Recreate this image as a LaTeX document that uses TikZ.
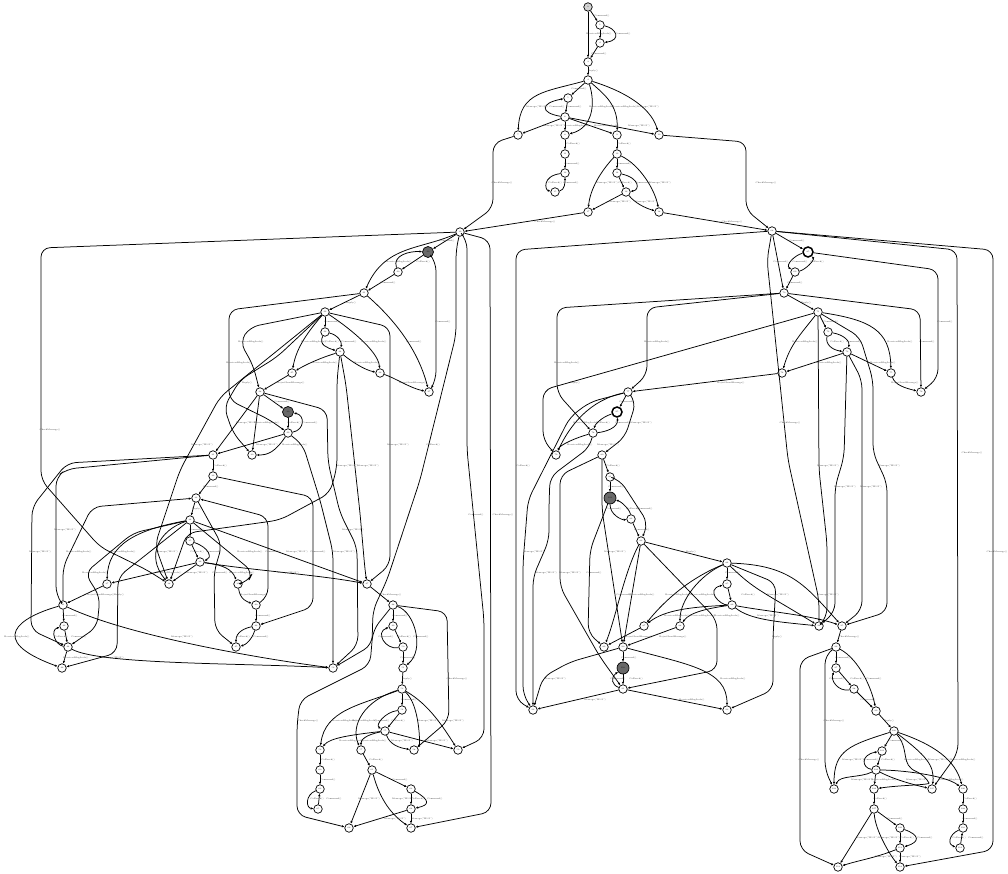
\documentclass[tikz,border=0pt]{standalone}
\usepackage{xcolor}
\usetikzlibrary{arrows.meta}
\definecolor{dimst}{RGB}{105,105,105}
\definecolor{startst}{RGB}{211,211,211}
\newcommand{\smallfont}{\fontsize{2.15}{2.15}\selectfont}
\tikzset{
  st/.style={circle,draw=black,fill=white,line width=.7pt,minimum size=8.5pt,inner sep=.4pt,font=\fontsize{2}{2}\selectfont},
  startst/.style={st,fill=startst},
  dimst/.style={st,fill=dimst,minimum size=11pt},
  boldst/.style={st,line width=1.5pt,minimum size=10pt},
  ed/.style={draw=black,line width=.75pt,rounded corners=9pt,-{Latex[length=2.6pt,width=2.4pt]}},
  lbl/.style={font=\smallfont,inner sep=0pt,text=black!80}
}
\begin{document}
\begin{tikzpicture}[x=1pt,y=-1pt]
  \useasboundingbox (0,0) rectangle (1008,874);
  % states
  \foreach \nm/\x/\y [count=\i from 1] in {t1/600/25,t2/600/43,t3/588/62,t4/588/80,t5/568/98,t6/565/117,t7/518/135,t8/565/135,t9/617/135,t10/659/135,t11/565/154,t12/617/154,t13/565/173,t14/617/173,t15/555/192,t16/626/192,t17/588/212,t18/659/212,
    L0/460/232,l2/398/272,l3/364/293,l4/325/312,l5/325/332,l6/340/352,l7/292/373,l8/380/373,l9/429/392,l10/260/392,l12/288/433,l13/252/455,l14/213/455,l15/213/476,l16/196/498,l17/190/520,l18/190/541,l19/200/562,l20/107/584,l21/169/584,l22/238/584,l23/256/605,l24/63/605,l25/64/626,l26/256/626,l27/68/647,l28/236/647,l29/62/668,
    b0/367/584,b1/393/605,b2/393/626,b3/403/647,b4/403/668,b5/333/668,b6/402/689,b7/402/710,b8/385/731,b9/320/750,b10/361/750,b11/414/750,b12/458/750,b13/320/770,b14/372/770,b15/320/789,b16/411/789,b17/411/809,b18/318/809,b19/349/828,b20/411/828,
    R0/772/231,r2/795/272,r3/784/293,r4/818/312,r5/828/332,r6/847/352,r7/782/373,r8/891/373,r9/921/392,r10/628/392,r12/593/433,r13/556/455,r14/602/455,r15/610/477,r17/631/519,r18/641/541,r19/727/563,r20/727/584,r21/732/605,r22/644/626,r23/680/626,r24/604/647,r25/623/647,r27/623/689,r28/533/710,r29/727/710,
    q0/819/626,q1/842/626,q2/836/647,q3/836/668,q4/854/689,q5/876/711,q6/894/731,q7/882/751,q8/876/770,q9/834/789,q10/874/789,q11/932/789,q12/963/789,q13/874/809,q14/963/809,q15/900/828,q16/963/828,q17/900/848,q18/960/848,q19/838/867,q20/900/867}
    \node[st] (\nm) at (\x,\y) {\i};
  \node[startst] (t0) at (588,7) {0};
  \node[dimst] (l1) at (428,252) {20};
  \node[dimst] (l11) at (288,412) {30};
  \node[boldst] (r1) at (808,252) {85};
  \node[boldst] (r11) at (617,412) {95};
  \node[dimst,minimum size=12pt] (r16) at (610,498) {101};
  \node[dimst,minimum size=12pt] (r26) at (623,668) {110};
  % top part
  \draw[ed] (t0) -- (t3);
  \draw[ed] (t0) -- (t1);
  \draw[ed] (t1) -- (t2);
  \draw[ed] (t1) .. controls (616,28) and (622,40) .. (t2);
  \draw[ed] (t2) -- (t3);
  \draw[ed] (t3) -- (t4);
  \draw[ed] (t4) -- (t5);
  \draw[ed] (t5) -- (t6);
  \draw[ed] (t6) .. controls (540,113) and (540,103) .. (t5);
  \draw[ed] (t4) .. controls (545,92) and (520,92) .. (t7);
  \draw[ed] (t4) .. controls (596,105) and (592,128) .. (t8);
  \draw[ed] (t4) .. controls (605,95) and (618,105) .. (t9);
  \draw[ed] (t4) .. controls (620,90) and (650,105) .. (t10);
  \draw[ed] (t6) -- (t7);
  \draw[ed] (t6) -- (t8);
  \draw[ed] (t6) -- (t9);
  \draw[ed] (t6) -- (t10);
  \draw[ed] (t8) -- (t11);
  \draw[ed] (t11) -- (t13);
  \draw[ed] (t13) .. controls (542,176) and (545,190) .. (t15);
  \draw[ed] (t15) .. controls (565,190) and (565,182) .. (t13);
  \draw[ed] (t9) -- (t12);
  \draw[ed] (t12) -- (t14);
  \draw[ed] (t14) .. controls (640,178) and (640,190) .. (t16);
  \draw[ed] (t14) -- (t16);
  \draw[ed] (t12) .. controls (600,172) and (590,190) .. (t17);
  \draw[ed] (t12) .. controls (640,165) and (655,190) .. (t18);
  \draw[ed] (t16) -- (t17);
  \draw[ed] (t16) .. controls (635,203) and (645,208) .. (t18);
  \draw[ed] (t7) -- (493,143) -- (493,208) -- (L0);
  \draw[ed] (t17) -- (L0);
  \draw[ed] (t10) -- (746,142) -- (746,210) -- (R0);
  \draw[ed] (t18) -- (R0);
  % left part
  \draw[ed] (L0) -- (l1);
  \draw[ed] (L0) .. controls (420,250) and (385,245) .. (l3);
  \draw[ed] (l1) -- (l2);
  \draw[ed] (l2) .. controls (392,255) and (410,251) .. (l1);
  \draw[ed] (l2) -- (l3);
  \draw[ed] (l3) -- (l4);
  \draw[ed] (l3) .. controls (395,320) and (418,350) .. (l9);
  \draw[ed] (l1) -- (436,262) -- (436,380) -- (l9);
  \draw[ed] (L0) -- (456,250) -- (456,335) -- (420,480) -- (387,580) -- (373,610) -- (372,645) -- (b5);
  \draw[ed] (L0) -- (467,240) -- (467,450) -- (484,620) -- (484,738) -- (b12);
  \draw[ed] (L0) -- (490,240) -- (491,812) -- (b20);
  \draw[ed] (L0) -- (41,248) -- (41,480) -- (100,547) -- (147,570) -- (l21);
  \draw[ed] (l4) -- (l5);
  \draw[ed] (l5) .. controls (318,345) and (328,348) .. (l6);
  \draw[ed] (l5) .. controls (338,335) and (342,342) .. (l6);
  \draw[ed] (l4) .. controls (305,335) and (296,350) .. (l7);
  \draw[ed] (l4) .. controls (345,325) and (378,350) .. (l8);
  \draw[ed] (l6) .. controls (320,358) and (305,365) .. (l7);
  \draw[ed] (l6) .. controls (352,362) and (365,370) .. (l8);
  \draw[ed] (l7) -- (l10);
  \draw[ed] (l8) .. controls (395,378) and (410,388) .. (l9);
  \draw[ed] (l10) -- (l11);
  \draw[ed] (l11) -- (l12);
  \draw[ed] (l12) .. controls (305,430) and (305,415) .. (l11);
  \draw[ed] (l10) -- (327,410) -- (328,462) -- (340,513) -- (357,547) -- (358,645) -- (b5);
  \draw[ed] (l12) -- (303,445) -- (320,500) -- (333,552) -- (b5);
  \draw[ed] (l6) -- (337,380) -- (337,467) -- (330,493) -- (280,520) -- (187,533) -- (l21);
  \draw[ed] (l6) -- (346,385) -- (360,513) -- (365,570) -- (b0);
  \draw[ed] (l3) -- (229,310) -- (229,400) -- (270,420) -- (l12);
  \draw[ed] (l4) -- (250,327) -- (240,342) -- (253,365) -- (l10);
  \draw[ed] (l4) -- (390,327) -- (390,565) -- (b0);
  \draw[ed] (l4) -- (220,397) -- (180,470) -- (155,545) -- (l21);
  \draw[ed] (l4) -- (277,357) -- (240,380) -- (224,407) -- (233,433) -- (l13);
  \draw[ed] (l10) -- (l13);
  \draw[ed] (l10) -- (l14);
  \draw[ed] (l12) .. controls (275,452) and (268,455) .. (l13);
  \draw[ed] (l12) -- (l14);
  \draw[ed] (l14) -- (l15);
  \draw[ed] (l14) -- (67,463) -- (32,507) -- (31,630) -- (l27);
  \draw[ed] (l14) -- (67,469) -- (56,477) -- (56,595) -- (l24);
  \draw[ed] (l15) -- (l16);
  \draw[ed] (l15) -- (313,497) -- (313,607) -- (l26);
  \draw[ed] (l17) -- (b0);
  \draw[ed] (l19) .. controls (250,570) and (320,575) .. (b0);
  \draw[ed] (l19) .. controls (225,565) and (232,570) .. (l22);
  \draw[ed] (l16) -- (222,545) -- (214,572) -- (215,630) -- (l28);
  \draw[ed] (l24) -- (63,567) -- (92,507) -- (l16);
  \draw[ed] (l23) -- (268,597) -- (268,517) -- (l16);
  \draw[ed] (l16) -- (l17);
  \draw[ed] (l17) -- (l18);
  \draw[ed] (l18) -- (l19);
  \draw[ed] (l18) .. controls (210,548) and (212,558) .. (l19);
  \draw[ed] (l17) -- (253,572) -- (248,582) -- (l22);
  \draw[ed] (l17) -- (133,533) -- (85,573) -- (100,597) -- (97,627) -- (l27);
  \draw[ed] (l17) .. controls (135,530) and (108,545) .. (l20);
  \draw[ed] (l17) -- (118,577) -- (117,653) -- (l29);
  \draw[ed] (l19) -- (l20);
  \draw[ed] (l19) -- (l21);
  \draw[ed] (l17) .. controls (160,530) and (145,555) .. (l21);
  \draw[ed] (l20) -- (l24);
  \draw[ed] (l24) -- (l25);
  \draw[ed] (l25) -- (l27);
  \draw[ed] (l27) .. controls (55,645) and (50,630) .. (l25);
  \draw[ed] (l24) .. controls (130,637) and (270,660) .. (b5);
  \draw[ed] (l24) .. controls (20,617) and (-15,640) .. (l29);
  \draw[ed] (l27) -- (l29);
  \draw[ed] (l27) .. controls (100,665) and (250,663) .. (b5);
  \draw[ed] (l22) .. controls (240,600) and (248,602) .. (l23);
  \draw[ed] (l23) -- (l26);
  \draw[ed] (l26) .. controls (245,628) and (236,632) .. (l28);
  \draw[ed] (l26) .. controls (252,640) and (245,645) .. (l28);
  % lower left part
  \draw[ed] (b0) -- (b1);
  \draw[ed] (b1) -- (b2);
  \draw[ed] (b2) -- (b3);
  \draw[ed] (b3) .. controls (385,650) and (375,632) .. (b2);
  \draw[ed] (b3) -- (b4);
  \draw[ed] (b1) .. controls (415,612) and (425,650) .. (b4);
  \draw[ed] (b4) -- (b6);
  \draw[ed] (b6) -- (b7);
  \draw[ed] (b7) -- (b8);
  \draw[ed] (b7) .. controls (385,712) and (375,725) .. (b8);
  \draw[ed] (b6) .. controls (360,705) and (325,710) .. (b9);
  \draw[ed] (b6) .. controls (365,700) and (350,725) .. (b10);
  \draw[ed] (b6) .. controls (420,705) and (420,745) .. (b11);
  \draw[ed] (b6) .. controls (430,705) and (445,730) .. (b12);
  \draw[ed] (b8) .. controls (350,735) and (330,738) .. (b9);
  \draw[ed] (b8) .. controls (365,735) and (361,740) .. (b10);
  \draw[ed] (b8) .. controls (390,745) and (400,748) .. (b11);
  \draw[ed] (b8) -- (b12);
  \draw[ed] (b1) -- (447,612) -- (449,720) -- (b11);
  \draw[ed] (b1) -- (373,630) -- (370,665) -- (300,700) -- (297,725) -- (297,815) -- (b19);
  \draw[ed] (b9) -- (b13);
  \draw[ed] (b13) -- (b15);
  \draw[ed] (b15) .. controls (305,795) and (306,808) .. (b18);
  \draw[ed] (b18) -- (b15);
  \draw[ed] (b10) -- (b14);
  \draw[ed] (b14) -- (b16);
  \draw[ed] (b16) -- (b17);
  \draw[ed] (b16) .. controls (430,800) and (430,805) .. (b17);
  \draw[ed] (b14) -- (b19);
  \draw[ed] (b14) .. controls (380,800) and (392,815) .. (b20);
  \draw[ed] (b17) -- (b19);
  \draw[ed] (b17) -- (b20);
  % right part
  \draw[ed] (R0) -- (r1);
  \draw[ed] (R0) -- (r3);
  \draw[ed] (r1) .. controls (795,255) and (785,265) .. (r2);
  \draw[ed] (r2) .. controls (805,270) and (815,260) .. (r1);
  \draw[ed] (r2) -- (r3);
  \draw[ed] (r3) -- (r4);
  \draw[ed] (r4) -- (r5);
  \draw[ed] (r5) .. controls (825,345) and (833,350) .. (r6);
  \draw[ed] (r5) .. controls (845,335) and (850,342) .. (r6);
  \draw[ed] (r4) .. controls (800,335) and (790,345) .. (r7);
  \draw[ed] (r4) .. controls (870,320) and (890,330) .. (r8);
  \draw[ed] (r6) -- (r7);
  \draw[ed] (r6) -- (r8);
  \draw[ed] (r8) .. controls (895,385) and (905,388) .. (r9);
  \draw[ed] (r3) -- (920,310) -- (r9);
  \draw[ed] (r1) -- (938,270) -- (938,378) -- (r9);
  \draw[ed] (R0) -- (957,250) -- (958,753) -- (q11);
  \draw[ed] (R0) -- (993,250) -- (993,850) -- (q20);
  \draw[ed] (R0) -- (516,250) -- (516,700) -- (r28);
  \draw[ed] (R0) -- (767,260) -- (788,460) -- (819,600) -- (q0);
  \draw[ed] (r3) -- (557,308) -- (557,393) -- (r12);
  \draw[ed] (r3) -- (647,308) -- (647,375) -- (r10);
  \draw[ed] (r4) -- (543,390) -- (543,440) -- (r13);
  \draw[ed] (r7) -- (r10);
  \draw[ed] (r10) -- (r11);
  \draw[ed] (r11) .. controls (600,418) and (595,425) .. (r12);
  \draw[ed] (r12) .. controls (605,432) and (618,428) .. (r11);
  \draw[ed] (r10) -- (590,402) -- (570,417) -- (528,500) -- (523,563) -- (523,695) -- (r28);
  \draw[ed] (r10) .. controls (590,400) and (570,425) .. (r13);
  \draw[ed] (r10) -- (636,402) -- (625,437) -- (r14);
  \draw[ed] (r12) .. controls (575,438) and (560,445) .. (r13);
  \draw[ed] (r12) -- (590,447) -- (550,477) -- (549,505) -- (549,540) -- (533,577) -- (r28);
  \draw[ed] (r14) -- (560,475) -- (560,587) -- (600,657) -- (r27);
  \draw[ed] (r14) -- (r15);
  \draw[ed] (r15) -- (r16);
  \draw[ed] (r16) .. controls (610,515) and (622,520) .. (r17);
  \draw[ed] (r17) .. controls (630,510) and (622,502) .. (r16);
  \draw[ed] (r15) -- (620,480) -- (648,523) -- (r18);
  \draw[ed] (r17) -- (r18);
  \draw[ed] (r14) -- (602,510) -- (r25);
  \draw[ed] (r16) -- (590,550) -- (588,633) -- (r24);
  \draw[ed] (r18) .. controls (625,570) and (615,620) .. (r24);
  \draw[ed] (r18) -- (r25);
  \draw[ed] (r18) -- (r19);
  \draw[ed] (r18) -- (717,620) -- (717,670) -- (r27);
  \draw[ed] (r19) -- (r20);
  \draw[ed] (r20) -- (r21);
  \draw[ed] (r21) .. controls (720,605) and (705,590) .. (r20);
  \draw[ed] (r19) .. controls (690,578) and (665,600) .. (r22);
  \draw[ed] (r19) .. controls (700,575) and (680,600) .. (r23);
  \draw[ed] (r21) .. controls (690,607) and (665,610) .. (r22);
  \draw[ed] (r21) .. controls (710,608) and (690,612) .. (r23);
  \draw[ed] (r22) -- (r24);
  \draw[ed] (r23) -- (r25);
  \draw[ed] (r19) -- (776,583) -- (773,637) -- (773,690) -- (r29);
  \draw[ed] (r19) .. controls (790,565) and (805,585) .. (q1);
  \draw[ed] (r19) .. controls (755,590) and (760,590) .. (q0);
  \draw[ed] (r21) .. controls (750,620) and (780,622) .. (q0);
  \draw[ed] (r21) .. controls (770,612) and (810,615) .. (q1);
  \draw[ed] (r25) -- (r26);
  \draw[ed] (r26) -- (r27);
  \draw[ed] (r27) .. controls (612,685) and (610,678) .. (r26);
  \draw[ed] (r25) -- (570,662) -- (543,677) -- (r28);
  \draw[ed] (r27) -- (r28);
  \draw[ed] (r27) -- (r29);
  \draw[ed] (r25) .. controls (690,665) and (727,670) .. (r29);
  \draw[ed] (r4) -- (819,470) -- (827,543) -- (827,617) -- (q0);
  \draw[ed] (r6) -- (844,457) -- (835,487) -- (835,612) -- (q0);
  \draw[ed] (r6) -- (862,380) -- (862,610) -- (q1);
  \draw[ed] (r4) -- (860,337) -- (873,380) -- (873,453) -- (887,483) -- (887,612) -- (q1);
  % lower right part
  \draw[ed] (q1) -- (q2);
  \draw[ed] (q2) -- (q3);
  \draw[ed] (q3) -- (q4);
  \draw[ed] (q4) .. controls (838,692) and (830,680) .. (q3);
  \draw[ed] (q4) -- (q5);
  \draw[ed] (q2) .. controls (860,660) and (872,690) .. (q5);
  \draw[ed] (q5) -- (q6);
  \draw[ed] (q6) -- (q7);
  \draw[ed] (q7) -- (q8);
  \draw[ed] (q8) .. controls (862,768) and (860,755) .. (q7);
  \draw[ed] (q6) .. controls (850,745) and (834,750) .. (q9);
  \draw[ed] (q6) .. controls (910,750) and (900,765) .. (925,775) .. controls (930,785) and (900,785) .. (q10);
  \draw[ed] (q6) .. controls (925,755) and (935,765) .. (q11);
  \draw[ed] (q6) .. controls (935,745) and (955,760) .. (q12);
  \draw[ed] (q8) .. controls (860,778) and (840,775) .. (q9);
  \draw[ed] (q8) -- (q10);
  \draw[ed] (q8) .. controls (895,780) and (915,785) .. (q11);
  \draw[ed] (q8) .. controls (900,770) and (945,775) .. (q12);
  \draw[ed] (q2) -- (825,655) -- (825,770) -- (q9);
  \draw[ed] (q2) -- (800,660) -- (800,850) -- (q19);
  \draw[ed] (q10) -- (q13);
  \draw[ed] (q13) -- (q15);
  \draw[ed] (q15) -- (q17);
  \draw[ed] (q15) .. controls (920,835) and (920,842) .. (q17);
  \draw[ed] (q13) -- (q19);
  \draw[ed] (q13) .. controls (875,830) and (890,855) .. (q20);
  \draw[ed] (q17) .. controls (875,858) and (860,860) .. (q19);
  \draw[ed] (q17) -- (q20);
  \draw[ed] (q12) -- (q14);
  \draw[ed] (q14) -- (q16);
  \draw[ed] (q16) .. controls (948,835) and (948,845) .. (q18);
  \draw[ed] (q18) -- (q16);
  % transition labels
  \foreach \x/\y [count=\i] in {602/16,623/34,599/54,579/89,557/107,574/107,572/164,624/164,571/183,643/183,
    447/241,388/283,443/322,332/322,349/342,414/342,282/402,310/423,211/487,197/530,214/552,273/552,220/573,263/616,70/616,79/637,261/637,318/552,476/515,
    400/616,386/637,421/637,408/658,382/721,409/700,328/780,400/780,334/799,435/799,
    797/241,781/262,800/262,795/283,945/322,831/322,854/342,927/342,627/402,623/423,616/487,614/509,645/509,642/530,594/573,733/573,624/595,629/658,618/679,
    843/658,837/679,874/679,868/700,896/741,871/760,895/819,970/819,925/838,976/838}
    \node[lbl] (cmd\i) at (\x,\y) {Command()};
  \foreach \x/\y [count=\i] in {599/34,602/107,625/107,577/126,607/126,399/262,251/342,314/342,374/342,239/363,325/363,367/363,267/423,295/445,
    79/552,123/552,250/552,95/573,169/573,242/573,17/637,76/658,345/721,365/721,352/741,374/741,
    567/363,657/342,586/423,580/445,642/595,678/595,703/595,677/616,703/616,727/616,733/679,692/700,805/342,900/342,829/363,883/363,
    917/760,963/760,884/780,951/780}
    \node[lbl] (recv\i) at (\x,\y) {ReceivedMsgLook()};
  \foreach \x/\y [count=\i] in {537/107,648/107,554/126,639/126,607/183,660/183,620/202,646/202,247/423,267/445,398/445,347/466,368/466,202/445,
    65/530,40/552,167/552,197/573,288/573,297/552,344/552,353/530,182/637,113/658,428/721,453/721,402/741,437/741,369/799,403/799,395/819,422/819,
    641/423,608/445,534/552,615/552,546/573,570/573,778/595,768/616,555/679,595/700,828/466,845/487,871/487,889/466,828/595,
    853/760,939/760,862/780,917/780,867/838,889/838,886/857,910/857}
    \node[lbl] (msg\i) at (\x,\y) {Message("H1.S")};
  \foreach \x/\y [count=\i] in {573/144,624/144,555/183,625/183,423/262,332/342,294/423,433/445,220/466,197/552,61/637,243/637,
    404/637,398/721,328/760,376/760,317/799,418/799,
    837/342,817/262,603/423,523/466,613/466,633/509,748/595,636/679,857/679,888/760,880/799,970/799,907/838,959/838}
    \node[lbl] (cb\i) at (\x,\y) {Callback()};
  \foreach \x/\y [count=\i] in {502/183,545/222,732/222,766/183,50/430,503/515,391/595,457/679,308/721,
    790/423,972/453,997/552,849/637,834/721,809/760}
    \node[lbl] (chk\i) at (\x,\y) {CheckMessage()};
  \foreach \x/\y [count=\i] in {593/71,351/303,247/383,197/509,119/595,407/679,806/303,575/383,691/552,777/637,889/721}
    \node[lbl] (rep\i) at (\x,\y) {Reply()};
  \foreach \x/\y [count=\i] in {291/383,413/383,101/595,254/595,731/383,905/383,639/637,673/637}
    \node[lbl] (rej\i) at (\x,\y) {RejectSendMessage()};
\end{tikzpicture}
\end{document}
